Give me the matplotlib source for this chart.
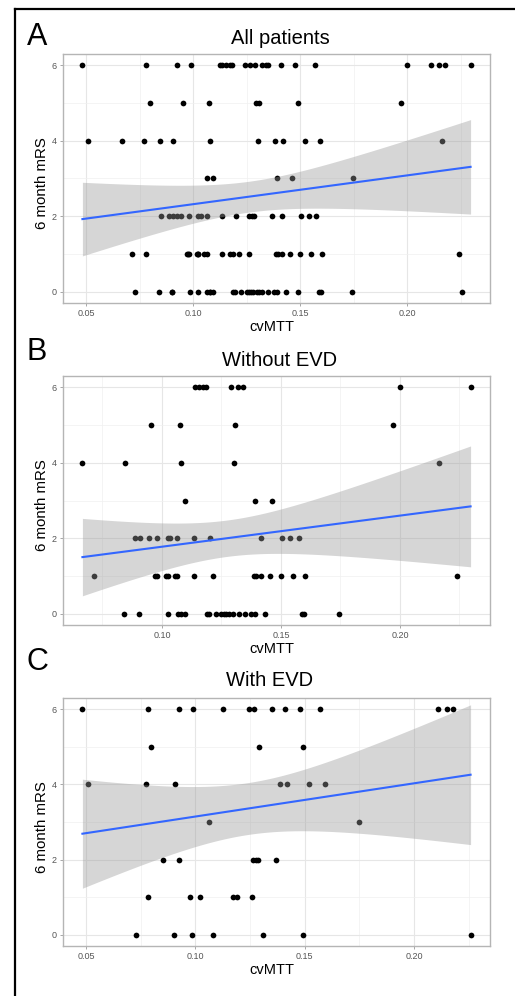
import numpy as np
import matplotlib
matplotlib.use("Agg")
import matplotlib.pyplot as plt

plt.rcParams["font.family"] = ["Liberation Sans", "DejaVu Sans"]

# cvMTT values, grouped by 6 month mRS score
no_evd = {
    6: [0.1137, 0.1154, 0.1173, 0.1184, 0.1289, 0.1320, 0.1341, 0.2000, 0.2297],
    5: [0.0954, 0.1076, 0.1309, 0.1972],
    4: [0.0666, 0.0844, 0.1081, 0.1304, 0.2163],
    3: [0.1095, 0.1393, 0.1463],
    2: [0.0889, 0.0906, 0.0944, 0.0979, 0.1025, 0.1035, 0.1065, 0.1133, 0.1201,
        0.1418, 0.1506, 0.1540, 0.1576],
    1: [0.0714, 0.0973, 0.0980, 0.1018, 0.1025, 0.1053, 0.1065, 0.1133, 0.1215,
        0.1386, 0.1397, 0.1418, 0.1453, 0.1502, 0.1551, 0.1602, 0.2241],
    0: [0.0840, 0.0903, 0.1025, 0.1067, 0.1081, 0.1095, 0.1189, 0.1196, 0.1226,
        0.1250, 0.1261, 0.1271, 0.1281, 0.1299, 0.1324, 0.1351, 0.1376, 0.1390,
        0.1433, 0.1589, 0.1596, 0.1745],
}
with_evd = {
    6: [0.0483, 0.0782, 0.0923, 0.0991, 0.1126, 0.1245, 0.1266, 0.1349, 0.1412,
        0.1477, 0.1571, 0.2111, 0.2151, 0.2178],
    5: [0.0798, 0.1293, 0.1492],
    4: [0.0508, 0.0772, 0.0906, 0.1385, 0.1419, 0.1521, 0.1594],
    3: [0.1063, 0.1748],
    2: [0.0851, 0.0927, 0.1263, 0.1276, 0.1287, 0.1370],
    1: [0.0782, 0.0976, 0.1022, 0.1174, 0.1189, 0.1261],
    0: [0.0729, 0.0900, 0.0985, 0.1080, 0.1309, 0.1492, 0.2259],
}

panel_letters = ["A", "B", "C"]
panel_titles = ["All patients", "Without EVD", "With EVD"]
x_ticks = [0.05, 0.10, 0.15, 0.20]
y_ticks = [0, 2, 4, 6]

W, H = 515, 996


def to_xy(groups):
    xs, ys = [], []
    for score, vals in groups.items():
        xs += vals
        ys += [score] * len(vals)
    return np.array(xs), np.array(ys, dtype=float)


def t_quantile(df, z=1.959964):
    return z + (z**3 + z) / (4 * df) + (5 * z**5 + 16 * z**3 + 3 * z) / (96 * df**2)


def lm_band(x, y, n_grid=80):
    n = len(x)
    X = np.column_stack([np.ones(n), x])
    beta, *_ = np.linalg.lstsq(X, y, rcond=None)
    resid = y - X @ beta
    s2 = resid @ resid / (n - 2)
    cov = s2 * np.linalg.inv(X.T @ X)
    gx = np.linspace(x.min(), x.max(), n_grid)
    G = np.column_stack([np.ones(n_grid), gx])
    fit = G @ beta
    se = np.sqrt(np.einsum("ij,jk,ik->i", G, cov, G))
    t = t_quantile(n - 2)
    return gx, fit, fit - t * se, fit + t * se


bx, by = to_xy(no_evd)
cx, cy = to_xy(with_evd)
datasets = [(np.concatenate([bx, cx]), np.concatenate([by, cy])), (bx, by), (cx, cy)]

# axes boxes in pixels: left, top, right, bottom
boxes = [(63, 54, 490, 303), (63, 376, 490, 625), (63, 698, 490, 946)]
letter_y = [37, 352, 662]
title_pos = [(280, 38), (280, 360), (270, 681)]

fig = plt.figure(figsize=(W / 100, H / 100), dpi=100)

for (x, y), (l, t, r, b), letter, ly, title, (tx, ty) in zip(
        datasets, boxes, panel_letters, letter_y, panel_titles, title_pos):
    ax = fig.add_axes([l / W, 1 - b / H, (r - l) / W, (b - t) / H])
    ax.set_facecolor("white")
    ax.scatter(x, y, s=17, color="black", linewidths=0, zorder=3)
    gx, fit, lo, hi = lm_band(x, y)
    ax.fill_between(gx, lo, hi, color="#999999", alpha=0.4, linewidth=0, zorder=4)
    ax.plot(gx, fit, color="#3366FF", linewidth=1.5, zorder=5)

    pad_x = 0.05 * (x.max() - x.min())
    ax.set_xlim(x.min() - pad_x, x.max() + pad_x)
    ax.set_ylim(-0.3, 6.3)
    ax.set_xticks(x_ticks)
    ax.set_xticklabels(["%.2f" % v for v in x_ticks])
    ax.set_yticks(y_ticks)
    ax.set_xticks([0.075, 0.125, 0.175, 0.225], minor=True)
    ax.set_yticks([1, 3, 5], minor=True)
    ax.set_xlim(x.min() - pad_x, x.max() + pad_x)
    ax.grid(True, which="major", color="#e6e6e6", linewidth=0.8, zorder=0)
    ax.grid(True, which="minor", color="#f0f0f0", linewidth=0.5, zorder=0)
    ax.set_axisbelow(True)
    ax.tick_params(which="major", length=2.5, width=0.6, color="#999999",
                   labelsize=6.5, labelcolor="#555555", pad=2)
    ax.tick_params(which="minor", length=0)
    for sp in ax.spines.values():
        sp.set_color("#b5b5b5")
        sp.set_linewidth(1.0)

    ax.set_ylabel("6 month mRS", fontsize=10.8, color="black")
    ax.yaxis.set_label_coords(-(l - 42) / (r - l), 0.5 - 5 / (b - t))
    ax.yaxis.label.set_va("center")
    ax.set_xlabel("cvMTT", fontsize=10.5, color="black")
    ax.xaxis.set_label_coords(0.49, -24 / (b - t))
    ax.xaxis.label.set_va("center")

    fig.text(37 / W, 1 - ly / H, letter, fontsize=22, ha="center", va="center")
    fig.text(tx / W, 1 - ty / H, title, fontsize=14.5, ha="center", va="center")

# outer frame, left and top edges only
fig.add_artist(plt.Line2D([15 / W, 15 / W], [0, 1 - 9 / H], color="black",
                          linewidth=1.6, transform=fig.transFigure))
fig.add_artist(plt.Line2D([15 / W, 1], [1 - 9 / H, 1 - 9 / H], color="black",
                          linewidth=1.6, transform=fig.transFigure))

fig.savefig("out.png", dpi=100)
